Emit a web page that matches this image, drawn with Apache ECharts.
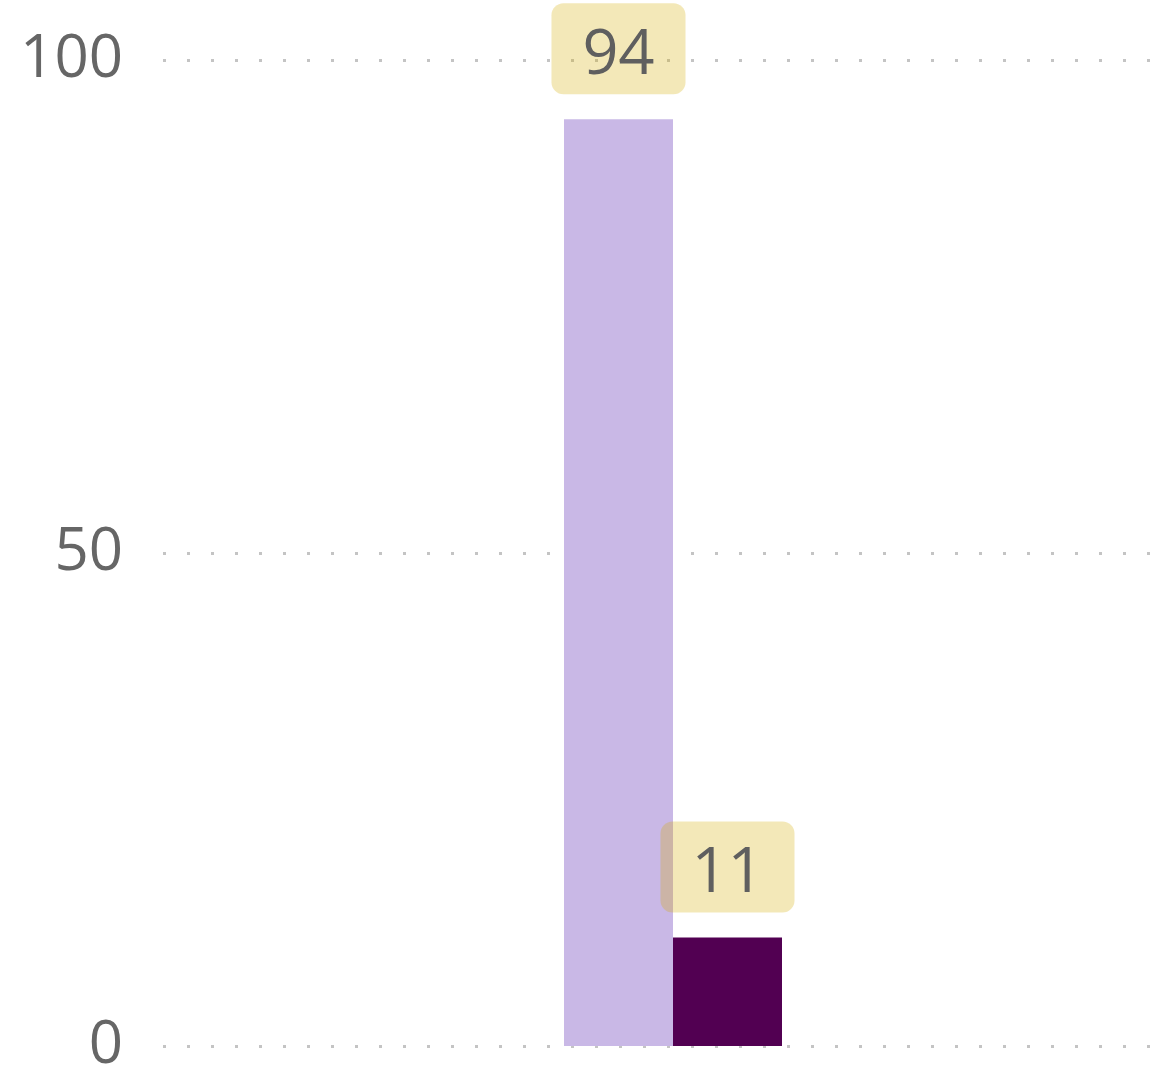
<!DOCTYPE html>
<html>
<head>
<meta charset="utf-8">
<style>
  html, body { margin: 0; padding: 0; background: #ffffff; }
  #chart { width: 1152px; height: 1069px; }
</style>
<script src="https://cdn.jsdelivr.net/npm/echarts@6/dist/echarts.min.js"></script>
</head>
<body>
<div id="chart"></div>
<script>
// One category, two side-by-side bars
const categories = ['A'];
const seriesFirst = [94];
const seriesSecond = [11];
const yTicks = { min: 0, max: 100, interval: 50 };

const labelStyle = {
  show: true,
  position: 'top',
  distance: 25,
  fontFamily: 'Open Sans',
  fontSize: 63,
  lineHeight: 63,
  color: '#5f5f5f',
  backgroundColor: 'rgba(212, 173, 0, 0.28)',
  borderRadius: 12,
  padding: [21, 31, 7, 31]
};

const chart = echarts.init(document.getElementById('chart'), null, { renderer: 'canvas' });
chart.setOption({
  animation: false,
  grid: {
    left: 163, width: 1020, top: 60, bottom: 23,
    containLabel: false,
    outerBoundsMode: 'none'
  },
  xAxis: {
    type: 'category',
    data: categories,
    show: false
  },
  yAxis: {
    type: 'value',
    min: yTicks.min,
    max: yTicks.max,
    interval: yTicks.interval,
    axisLine: { show: false },
    axisTick: { show: false },
    axisLabel: {
      margin: 40,
      fontFamily: 'Open Sans',
      fontSize: 60,
      color: '#666666'
    },
    splitLine: {
      show: true,
      lineStyle: { color: '#c4c4c4', width: 3, type: [3, 21] }
    }
  },
  series: [
    {
      type: 'bar',
      data: seriesFirst,
      barWidth: 109,
      barGap: '0%',
      itemStyle: { color: '#c9b8e6' },
      label: labelStyle
    },
    {
      type: 'bar',
      data: seriesSecond,
      barWidth: 109,
      barGap: '0%',
      itemStyle: { color: '#520052' },
      label: labelStyle
    }
  ]
});
</script>
</body>
</html>
